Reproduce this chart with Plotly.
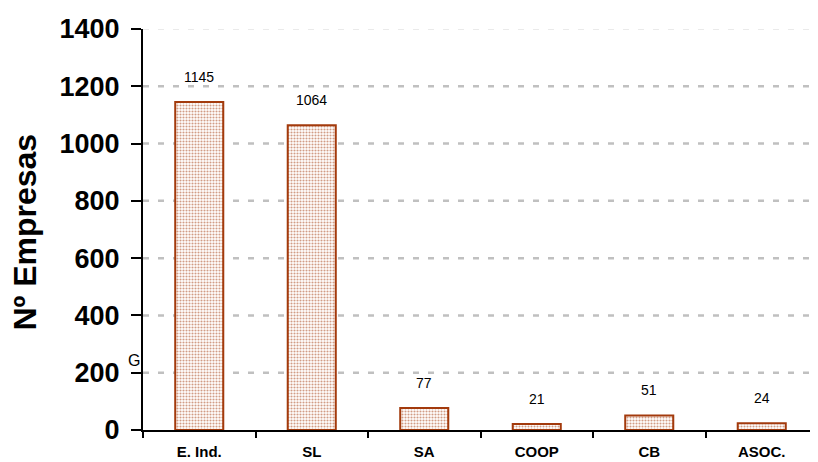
import plotly.graph_objects as go

categories = ["E. Ind.", "SL", "SA", "COOP", "CB", "ASOC."]
values = [1145, 1064, 77, 21, 51, 24]
y_ticks = [0, 200, 400, 600, 800, 1000, 1200, 1400]

FONT = "Arial, Liberation Sans, sans-serif"

fig = go.Figure()
fig.add_trace(go.Bar(
    x=categories, y=values,
    marker=dict(
        color="white",
        line=dict(color="#A33A0C", width=2),
        pattern=dict(shape=".", fgcolor="#A33A0C", bgcolor="white", size=3, solidity=0.38),
    ),
    showlegend=False,
))

for c, v in zip(categories, values):
    fig.add_annotation(x=c, y=v, text=str(v), showarrow=False, yanchor="bottom",
                       yshift=15, font=dict(family=FONT, size=14, color="black"))

# stray text fragment near the 200 tick
fig.add_annotation(xref="paper", yref="y", x=-0.001, y=205, text="G", showarrow=False,
                   xanchor="right", yanchor="bottom",
                   font=dict(family=FONT, size=16, color="black"))

# y axis title
fig.add_annotation(xref="paper", yref="paper", x=(25 - 143) / 675, y=0.4925,
                   text="Nº Empresas", textangle=-90, showarrow=False,
                   xanchor="center", yanchor="middle",
                   font=dict(family=FONT, size=32, color="black", weight="bold"))

# grid lines
for t in y_ticks[1:]:
    light = t == y_ticks[-1]
    fig.add_shape(type="line", xref="paper", yref="y", x0=0, x1=1, y0=t, y1=t,
                  layer="below",
                  line=dict(color="#E4E4E4" if light else "#C0C0C0",
                            width=1.5 if light else 2.5, dash="6px,9px"))

fig.update_layout(
    width=810, height=454,
    margin=dict(l=135, r=0, t=21, b=32),
    paper_bgcolor="white", plot_bgcolor="white",
    bargap=0.573,
    font=dict(family=FONT, color="black"),
)
fig.update_yaxes(
    range=[0, 1400], tickvals=y_ticks, ticks="outside", ticklen=10, tickwidth=2, tickcolor="black",
    showline=True, linecolor="black", linewidth=2,
    showgrid=False, zeroline=False,
    tickfont=dict(size=27, family=FONT, weight="bold"),
    ticklabelstandoff=6,
)
fig.update_xaxes(
    tickson="boundaries", ticks="outside", ticklen=6, tickwidth=2, tickcolor="black",
    showline=True, linecolor="black", linewidth=2, showgrid=False,
    tickfont=dict(size=15, family=FONT, weight="bold"),
    ticklabelstandoff=7,
)

fig.write_html("out.html")
